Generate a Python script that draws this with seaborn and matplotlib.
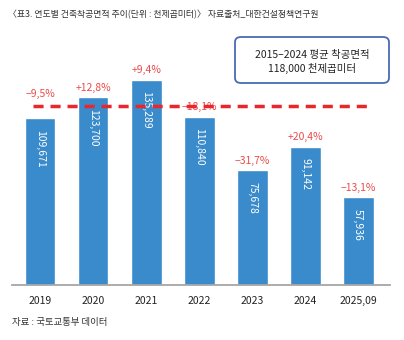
import matplotlib
matplotlib.use("Agg")
import matplotlib.pyplot as plt
from matplotlib.patches import FancyBboxPatch
import seaborn as sns
import pandas as pd

years = ["2019", "2020", "2021", "2022", "2023", "2024", "2025,09"]
areas = [109671, 123700, 135289, 110840, 75678, 91142, 57936]
changes = ["−9,5%", "+12,8%", "+9,4%", "−18,1%", "−31,7%", "+20,4%", "−13,1%"]
average = 118000

title = "〈표3. 연도별 건축착공면적 추이(단위 : 천제곱미터)〉 자료출처_대한건설정책연구원"
box_lines = ["2015–2024 평균 착공면적", "118,000 천제곱미터"]
source = "자료 : 국토교통부 데이터"

sns.set_theme(style="white")
plt.rcParams["font.family"] = ["Noto Sans CJK KR", "DejaVu Sans"]

BAR = "#3a8bcb"
RED = "#e8262b"
RED_TXT = "#ec4a4a"

df = pd.DataFrame({"year": years, "area": areas})

fig = plt.figure(figsize=(4.04, 3.40), dpi=100)
ax = fig.add_axes([12 / 404, 55 / 340, 378 / 404, 243 / 340])

sns.barplot(data=df, x="year", y="area", color=BAR, saturation=1, width=0.58, ax=ax, zorder=2)

ax.set_ylim(0, 160000)
ax.set_xlim(-0.53, 6.6)
for s in ["top", "right", "left"]:
    ax.spines[s].set_visible(False)
ax.spines["bottom"].set_color("#a6a6a6")
ax.spines["bottom"].set_linewidth(1.3)
ax.set_yticks([])
ax.set_xlabel("")
ax.set_ylabel("")
ax.tick_params(axis="x", length=0, pad=8, labelsize=7.5, labelcolor="#222222")

for i, (patch, val, ch) in enumerate(zip(ax.patches, areas, changes)):
    xc = patch.get_x() + patch.get_width() / 2
    top = patch.get_height()
    ax.annotate(f"{val:,}", (xc, top), xytext=(0, -8.5), textcoords="offset points",
                rotation=-90, ha="center", va="top", color="white", fontsize=7.5, zorder=3)
    # the first label is lifted above the average line, as in the original
    lift = 14 if i == 0 else 3
    ax.annotate(ch, (xc, top), xytext=(0, lift), textcoords="offset points",
                ha="center", va="bottom", color=RED_TXT, fontsize=7.5, zorder=3)

ax.axhline(average, xmin=0.056, xmax=0.952, color=RED, lw=2.5, dashes=(2.9, 2.0), zorder=5)

box = FancyBboxPatch((235 / 404, 1 - 83 / 340), 154 / 404, 46 / 340,
                     boxstyle="round,pad=0,rounding_size=0.015",
                     transform=fig.transFigure, fill=False, edgecolor="#4a6ab0", linewidth=1.3)
fig.patches.append(box)
fig.text(312 / 404, 1 - 55 / 340, box_lines[0], ha="center", va="center", fontsize=7.5, color="#222222")
fig.text(312 / 404, 1 - 68 / 340, box_lines[1], ha="center", va="center", fontsize=7.5, color="#222222")

fig.text(8 / 404, 1 - 15 / 340, title, ha="left", va="center", fontsize=6.4, color="#333333")
fig.text(12 / 404, 1 - 323 / 340, source, ha="left", va="center", fontsize=6.8, color="#333333")

fig.savefig("out.png", dpi=100)
